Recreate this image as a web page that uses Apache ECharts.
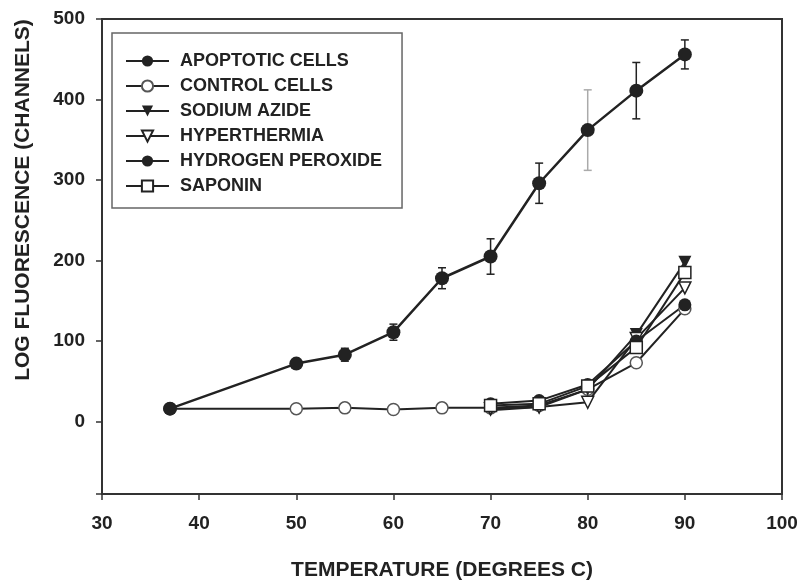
<!DOCTYPE html>
<html>
<head>
    <meta charset="utf-8">
    <title>Log fluorescence vs temperature</title>
    <script src="https://cdn.jsdelivr.net/npm/echarts@6/dist/echarts.min.js"></script>
</head>
<body style="margin:0;background:#fff;">
    <div id="main" style="width: 802px;height:586px;"></div>
    <script type="text/javascript">
        // temperatures (degrees C)
        const temps = [37, 50, 55, 60, 65, 70, 75, 80, 85, 90];
        const lateTemps = [70, 75, 80, 85, 90];

        // log fluorescence (channels)
        const apoptotic = [16, 72, 83, 111, 178, 205, 296, 362, 411, 456];
        const apoptoticErr = [0, 5, 8, 10, 13, 22, 25, 50, 35, 18];
        const control = [16, 16, 17, 15, 17, 17, 20, 40, 73, 140];
        const sodiumAzide = [14, 18, 40, 108, 198];
        const hyperthermia = [16, 18, 24, 103, 166];
        const hydrogenPeroxide = [22, 26, 46, 100, 145];
        const saponin = [20, 22, 44, 92, 185];

        const names = ['APOPTOTIC CELLS', 'CONTROL CELLS', 'SODIUM AZIDE', 'HYPERTHERMIA', 'HYDROGEN PEROXIDE', 'SAPONIN'];

        var myChart = echarts.init(document.getElementById('main'));
        const ink = '#222';
        const font = 'Liberation Sans, Arial, sans-serif';

        const pairs = (xs, ys) => xs.map((x, i) => [x, ys[i]]);

        function lineSeries(name, xs, ys, symbol, filled, opts) {
            return Object.assign({
                name: name,
                type: 'line',
                data: pairs(xs, ys),
                symbol: symbol,
                symbolSize: filled ? 13 : 12,
                lineStyle: { color: ink, width: 2 },
                itemStyle: {
                    color: filled ? ink : '#fff',
                    borderColor: ink,
                    borderWidth: filled ? 0 : 1.5
                },
                emphasis: { disabled: true },
                animation: false
            }, opts || {});
        }

        // error bars on apoptotic cells
        const errData = temps.map((t, i) => [t, apoptotic[i] - apoptoticErr[i], apoptotic[i] + apoptoticErr[i]])
            .filter((d, i) => apoptoticErr[i] > 0);

        var option = {
            backgroundColor: '#fff',
            animation: false,
            grid: {
                left: 102, right: 20, top: 19, bottom: 84,
                show: true, borderColor: '#333', borderWidth: 2
            },
            legend: {
                data: names,
                orient: 'vertical',
                left: 112, top: 33,
                padding: [19, 20, 13, 13],
                itemGap: 7,
                itemWidth: 43, itemHeight: 14,
                backgroundColor: '#fff',
                borderColor: '#666', borderWidth: 1.5,
                textStyle: { fontFamily: font, fontWeight: 'bold', fontSize: 18, color: ink, padding: [0, 0, 0, 6] }
            },
            xAxis: {
                type: 'value',
                min: 30, max: 100, interval: 10,
                name: 'TEMPERATURE (DEGREES C)',
                nameLocation: 'middle',
                nameGap: 66,
                nameTextStyle: { fontFamily: font, fontWeight: 'bold', fontSize: 21, color: ink },
                axisLine: { onZero: false, lineStyle: { color: '#333', width: 2 } },
                axisTick: { length: 6, lineStyle: { color: '#333', width: 1.5 } },
                axisLabel: { fontFamily: font, fontWeight: 'bold', fontSize: 19, color: ink, margin: 20 },
                splitLine: { show: false }
            },
            yAxis: {
                type: 'value',
                min: -90, max: 500, splitNumber: 6,
                axisLine: { show: true, lineStyle: { color: '#333', width: 2 } },
                axisTick: { show: true, length: 6, lineStyle: { color: '#333', width: 1.5 } },
                axisLabel: {
                    fontFamily: font, fontWeight: 'bold', fontSize: 19, color: ink, margin: 17,
                    formatter: v => (v % 100 === 0 ? String(v) : '')
                },
                splitLine: { show: false }
            },
            graphic: [{
                type: 'text',
                x: 23, y: 200,
                rotation: Math.PI / 2,
                style: {
                    text: 'LOG FLUORESCENCE (CHANNELS)',
                    fontFamily: font, fontWeight: 'bold', fontSize: 21, fill: ink,
                    align: 'center', verticalAlign: 'middle'
                }
            }],
            series: [
                lineSeries('CONTROL CELLS', temps, control, 'circle', false, {
                    itemStyle: { color: '#fff', borderColor: '#555', borderWidth: 1.5 }
                }),
                lineSeries('SODIUM AZIDE', lateTemps, sodiumAzide, 'triangle', true, { symbolRotate: 180 }),
                lineSeries('HYPERTHERMIA', lateTemps, hyperthermia, 'triangle', false, { symbolRotate: 180 }),
                lineSeries('HYDROGEN PEROXIDE', lateTemps, hydrogenPeroxide, 'circle', true),
                lineSeries('SAPONIN', lateTemps, saponin, 'rect', false),
                {
                    type: 'custom',
                    name: 'err',
                    data: errData,
                    z: 3,
                    renderItem: function (params, api) {
                        const x = api.value(0);
                        const lo = api.coord([x, api.value(1)]);
                        const hi = api.coord([x, api.value(2)]);
                        const w = 4;
                        const col = x === 80 ? '#aaa' : ink;
                        const st = { stroke: col, lineWidth: 1.5 };
                        return {
                            type: 'group',
                            children: [
                                { type: 'line', shape: { x1: lo[0], y1: lo[1], x2: hi[0], y2: hi[1] }, style: st },
                                { type: 'line', shape: { x1: lo[0] - w, y1: lo[1], x2: lo[0] + w, y2: lo[1] }, style: st },
                                { type: 'line', shape: { x1: hi[0] - w, y1: hi[1], x2: hi[0] + w, y2: hi[1] }, style: st }
                            ]
                        };
                    },
                    animation: false
                },
                lineSeries('APOPTOTIC CELLS', temps, apoptotic, 'circle', true, {
                    symbolSize: 14,
                    lineStyle: { color: ink, width: 2.5 },
                    z: 4
                })
            ]
        };

        myChart.setOption(option);
    </script>
</body>
</html>
